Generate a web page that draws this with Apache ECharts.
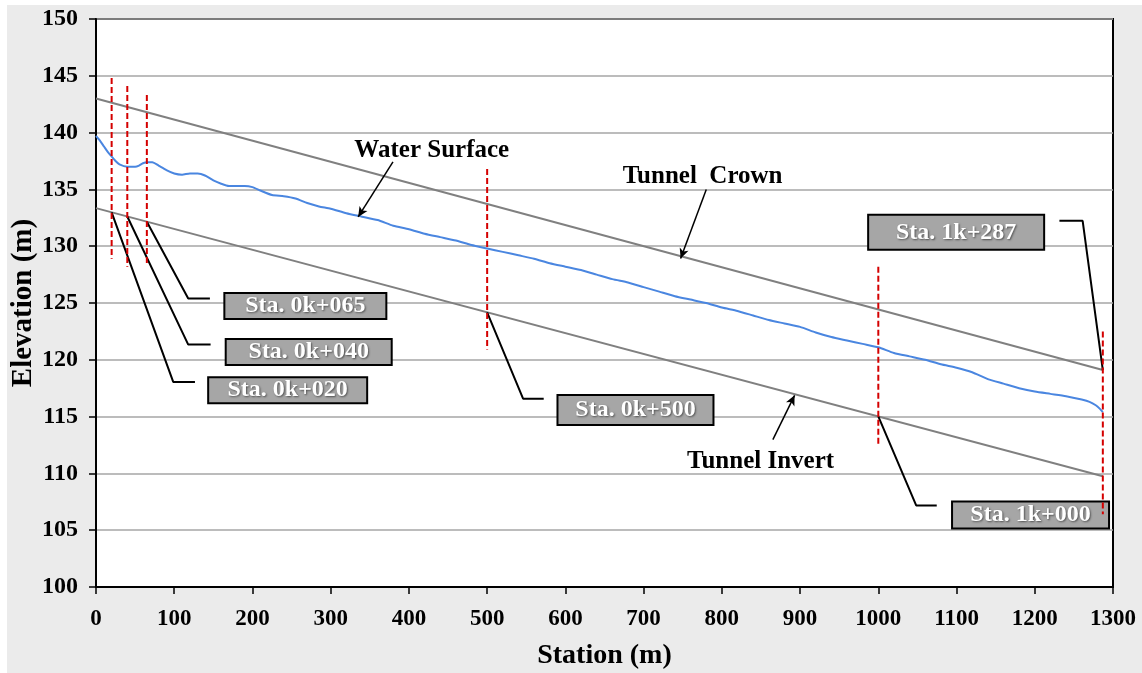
<!DOCTYPE html>
<html>
<head>
<meta charset="utf-8">
<title>Water Surface Profile</title>
<script src="https://cdn.jsdelivr.net/npm/echarts@6/dist/echarts.min.js"></script>
<style>
  html, body { margin: 0; padding: 0; background: #ffffff; }
  #panel { position: absolute; left: 7px; top: 5px; width: 1135px; height: 668px; background: #ebebeb; }
  #chart { position: absolute; left: 0; top: 0; width: 1142px; height: 673px; }
</style>
</head>
<body>
<div id="panel"></div>
<div id="chart"></div>
<script>
// Water surface profile along the tunnel (station in m, elevation in m)
const wsStation = [0, 5, 10, 15, 20, 25, 30, 40, 50, 55, 60, 65, 72, 80, 90, 100, 110, 120, 130, 140,
  150, 160, 170, 190, 200, 210, 225, 240, 255, 270, 285, 300, 320, 340, 360, 380, 400, 420, 440, 460,
  480, 500, 520, 540, 560, 580, 600, 620, 640, 660, 680, 700, 720, 740, 760, 780, 800, 820, 840, 860,
  880, 900, 920, 940, 960, 980, 1000, 1020, 1040, 1060, 1080, 1100, 1120, 1140, 1160, 1180, 1200, 1220,
  1240, 1260, 1270, 1278, 1283, 1287];
const wsElevation = [139.7, 139.3, 138.8, 138.3, 137.9, 137.5, 137.2, 137.0, 137.0, 137.1, 137.3, 137.4, 137.4, 137.1, 136.7, 136.4, 136.3, 136.4, 136.4, 136.2,
  135.8, 135.5, 135.3, 135.3, 135.2, 134.9, 134.5, 134.4, 134.2, 133.8, 133.5, 133.3, 132.9, 132.6, 132.3, 131.8, 131.5, 131.1, 130.8, 130.5,
  130.1, 129.8, 129.5, 129.2, 128.9, 128.5, 128.2, 127.9, 127.5, 127.1, 126.8, 126.4, 126.0, 125.6, 125.3, 125.0, 124.6, 124.3, 123.9, 123.5,
  123.2, 122.9, 122.4, 122.0, 121.7, 121.4, 121.1, 120.6, 120.3, 120.0, 119.6, 119.3, 118.9, 118.3, 117.9, 117.5, 117.2, 117.0,
  116.8, 116.5, 116.3, 116.0, 115.7, 115.4];

// Tunnel crown and invert (straight grades)
const tunnelStation = [0, 1287];
const crownElevation = [143.0, 119.1];
const invertElevation = [133.35, 109.75];

// Cross-section stations marked with dashed verticals
const sectionStation = [20, 40, 65, 500, 1000, 1287];
const sectionTop = [144.8, 144.1, 143.3, 136.8, 128.2, 122.5];
const sectionBottom = [128.9, 128.2, 128.3, 120.9, 112.4, 106.4];

// Axis ticks
const xTicks = { min: 0, max: 1300, step: 100 };
const yTicks = { min: 100, max: 150, step: 5 };

// Section callouts: label, which tunnel line the leader starts on, leader elbow and box centre (data units)
const calloutText = ['Sta. 0k+020', 'Sta. 0k+040', 'Sta. 0k+065', 'Sta. 0k+500', 'Sta. 1k+000', 'Sta. 1k+287'];
const calloutLine = ['invert', 'invert', 'invert', 'invert', 'invert', 'crown'];
const calloutElbow = [[98.7, 118.05], [117.9, 121.34], [117.9, 125.39], [545.9, 116.58], [1048.4, 107.18], [1261.2, 132.23]];
const calloutEndX = [126.5, 146.5, 145.6, 572.3, 1074.7, 1231.5];
const calloutBox = [[245.0, 117.33], [271.9, 120.68], [267.6, 124.73], [689.6, 115.58], [1194.6, 106.33], [1099.5, 131.22]];
const calloutSize = [[161, 28], [168, 28], [164, 28], [158, 32], [159, 29], [178, 37]];

// Curve labels with their pointer arrows (data units)
const curveLabel = ['Water Surface', 'Tunnel  Crown', 'Tunnel Invert'];
const curveLabelPos = [[429.2, 138.46], [775.4, 136.1], [849.5, 111.0]];
const arrowFrom = [[379.6, 137.43], [780.1, 135.0], [865.2, 112.97]];
const arrowTo = [[335.1, 132.58], [747.3, 128.92], [893.0, 116.87]];

const FONT = "'Liberation Serif', 'Times New Roman', serif";

function pairs(xs, ys) { return xs.map((x, i) => [x, ys[i]]); }
function lineAt(ys, s) {
  const t = (s - tunnelStation[0]) / (tunnelStation[1] - tunnelStation[0]);
  return ys[0] + t * (ys[1] - ys[0]);
}

const series = [];

// grey tunnel lines
series.push({
  type: 'line', name: 'Tunnel Crown', data: pairs(tunnelStation, crownElevation),
  showSymbol: false, symbol: 'none', lineStyle: { color: '#808080', width: 2 }, z: 3
});
series.push({
  type: 'line', name: 'Tunnel Invert', data: pairs(tunnelStation, invertElevation),
  showSymbol: false, symbol: 'none', lineStyle: { color: '#808080', width: 2 }, z: 3
});

// water surface
series.push({
  type: 'line', name: 'Water Surface', data: pairs(wsStation, wsElevation),
  showSymbol: false, symbol: 'none', smooth: 0.2, lineStyle: { color: '#4a86e0', width: 2 }, z: 4
});

// dashed section markers (drawn above the callout boxes)
sectionStation.forEach((s, i) => {
  series.push({
    type: 'line', data: [[s, sectionTop[i]], [s, sectionBottom[i]]],
    showSymbol: false, symbol: 'none',
    lineStyle: { color: '#d40000', width: 2, type: [6, 3] }, z: 8
  });
});

// leader lines and boxed labels
calloutText.forEach((txt, i) => {
  const s = sectionStation[i];
  const anchorY = calloutLine[i] === 'crown' ? lineAt(crownElevation, s) : lineAt(invertElevation, s);
  const elbow = calloutElbow[i];
  series.push({
    type: 'line',
    data: [[s, anchorY], elbow, [calloutEndX[i], elbow[1]]],
    showSymbol: false, symbol: 'none',
    lineStyle: { color: '#000', width: 2 }, z: 5
  });
  const w = calloutSize[i][0], h = calloutSize[i][1];
  series.push({
    type: 'scatter', data: [calloutBox[i]], symbolSize: 0, silent: true, z: 7,
    itemStyle: { opacity: 1 },
    label: {
      show: true, position: 'inside', formatter: txt,
      color: '#ffffff', fontFamily: FONT, fontWeight: 'bold', fontSize: 24,
      backgroundColor: '#a6a6a6', borderColor: '#000', borderWidth: 2,
      width: w - 4, height: h - 4, lineHeight: h - 4, align: 'center', verticalAlign: 'middle',
      padding: 0,
      textShadowColor: 'rgba(60,60,60,0.8)', textShadowBlur: 2, textShadowOffsetX: 1, textShadowOffsetY: 1
    }
  });
});

// curve labels
curveLabel.forEach((txt, i) => {
  series.push({
    type: 'scatter', data: [curveLabelPos[i]], symbolSize: 0, silent: true, z: 7,
    itemStyle: { opacity: 1 },
    label: {
      show: true, position: 'inside', formatter: txt,
      color: '#000000', opacity: 1, fontFamily: FONT, fontWeight: 'bold', fontSize: 25
    }
  });
});

// pointer arrows
series.push({
  type: 'line', data: [], silent: true,
  markLine: {
    silent: true, animation: false, symbolSize: [7, 10],
    lineStyle: { color: '#000', width: 1.5, type: 'solid' },
    label: { show: false },
    data: arrowFrom.map((p, i) => [
      { coord: p, symbol: 'none' },
      { coord: arrowTo[i], symbol: 'arrow' }
    ])
  }
});

const chart = echarts.init(document.getElementById('chart'), null, { renderer: 'canvas' });
chart.setOption({
  animation: false,
  backgroundColor: 'transparent',
  grid: {
    left: 96, right: 29, top: 19, bottom: 86,
    containLabel: false, outerBoundsMode: 'none',
    show: true, backgroundColor: '#ffffff', borderColor: '#000', borderWidth: 2
  },
  xAxis: {
    type: 'value', min: xTicks.min, max: xTicks.max, interval: xTicks.step,
    name: 'Station (m)', nameLocation: 'middle', nameGap: 55, nameMoveOverlap: false,
    nameTextStyle: { fontFamily: FONT, fontWeight: 'bold', fontSize: 28, color: '#000' },
    axisLine: { show: true, onZero: false, lineStyle: { color: '#000', width: 2 } },
    axisTick: { show: true, inside: false, length: 7, lineStyle: { color: '#000', width: 1.5 } },
    axisLabel: { margin: 21, fontFamily: FONT, fontWeight: 'bold', fontSize: 23, color: '#000',
      formatter: v => String(v) },
    splitLine: { show: false }
  },
  yAxis: {
    type: 'value', min: yTicks.min, max: yTicks.max, interval: yTicks.step,
    name: 'Elevation (m)', nameLocation: 'middle', nameGap: 58, nameRotate: 90, nameMoveOverlap: false,
    nameTextStyle: { fontFamily: FONT, fontWeight: 'bold', fontSize: 29, color: '#000' },
    axisLine: { show: true, onZero: false, lineStyle: { color: '#000', width: 2 } },
    axisTick: { show: true, inside: false, length: 7, lineStyle: { color: '#000', width: 1.5 } },
    axisLabel: { margin: 18, fontFamily: FONT, fontWeight: 'bold', fontSize: 24, color: '#000',
      formatter: v => String(v) },
    splitLine: { show: true, lineStyle: { color: '#a6a6a6', width: 1.5 } }
  },
  series: series
});
</script>
</body>
</html>
